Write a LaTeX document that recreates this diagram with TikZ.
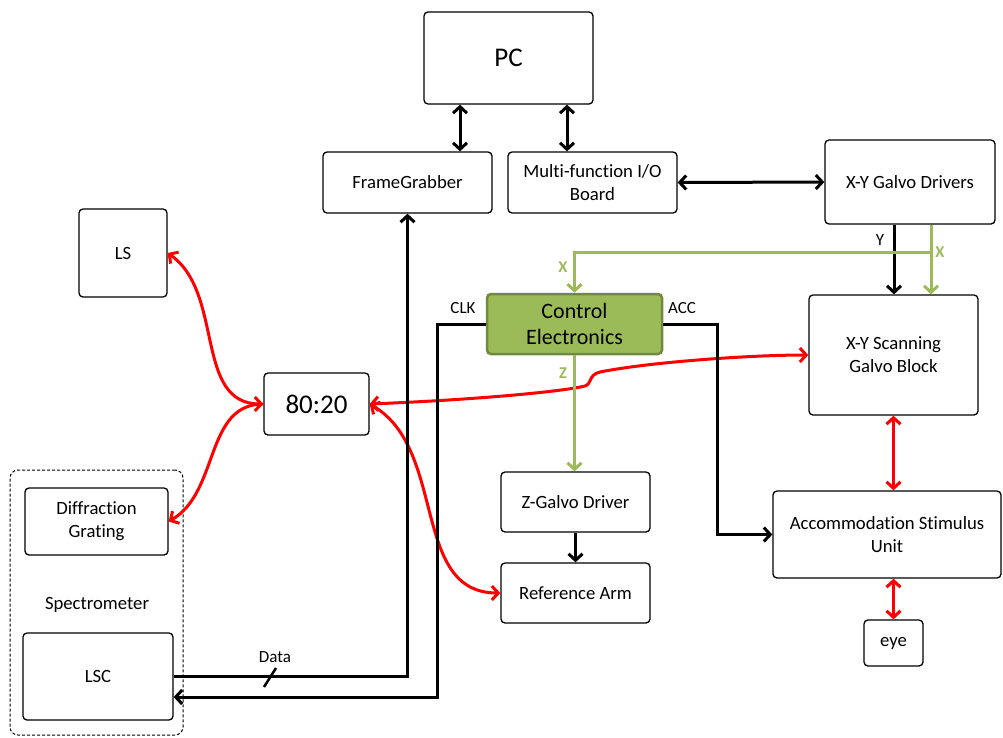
\documentclass[tikz,border=0pt]{standalone}
\usepackage{fontspec}
\setmainfont{Carlito}[Ligatures=CommonOff]
\usetikzlibrary{arrows.meta,calc}
\definecolor{cegreen}{HTML}{9BBB59}
\definecolor{ceborder}{HTML}{71893F}
\definecolor{redline}{HTML}{FF0000}
\begin{document}
\begin{tikzpicture}[x=1pt,y=-1pt,
  bb/.style={draw=black, line width=1.3pt, rounded corners=4pt, fill=white, align=center, inner sep=0pt, font=\fontsize{18.7}{23}\selectfont},
  tip/.tip={Straight Barb[length=6.5pt,width=14pt]},
  blk/.style={line width=3pt, black},
  grn/.style={line width=3pt, cegreen},
  rd/.style={line width=3pt, redline},
  lab/.style={font=\fontsize{17}{19}\selectfont, inner sep=0pt},
  glab/.style={font=\bfseries\fontsize{16.5}{18}\selectfont, text=cegreen, inner sep=0pt}]
\useasboundingbox (0,0) rectangle (1003,737);

% spectrometer container
\node[draw=black, line width=1pt, dash pattern=on 3pt off 2pt, rounded corners=8pt, minimum width=173pt, minimum height=265pt, inner sep=0pt] (Spec) at (96.5,602.5) {};
\node[font=\fontsize{18.7}{23}\selectfont, inner sep=0pt] (SpecL) at (97,605) {Spectrometer};

% boxes
\node[bb, minimum width=169pt, minimum height=92pt, font=\fontsize{27}{30}\selectfont] (PC) at (508.5,58) {PC};
\node[bb, minimum width=169pt, minimum height=61pt] (FG) at (407.5,182.5) {FrameGrabber};
\node[bb, minimum width=169pt, minimum height=61pt] (MIO) at (592.5,182.5) {Multi-function I/O\\Board};
\node[bb, minimum width=170pt, minimum height=84pt] (XYD) at (910,182) {X-Y Galvo Drivers};
\node[bb, minimum width=88pt, minimum height=88pt] (LS) at (123,253) {LS};
\node[bb, minimum width=105pt, minimum height=62pt, font=\fontsize{27}{30}\selectfont] (R) at (316.5,404) {80:20};
\node[bb, draw=ceborder, fill=cegreen, line width=2.5pt, minimum width=175pt, minimum height=60pt, font=\fontsize{22}{26}\selectfont] (CE) at (574.5,324) {Control\\Electronics};
\node[bb, minimum width=169pt, minimum height=120pt] (XYS) at (893.5,355) {X-Y Scanning\\Galvo Block};
\node[bb, minimum width=143pt, minimum height=67pt] (DG) at (96.5,521.5) {Diffraction\\Grating};
\node[bb, minimum width=150pt, minimum height=87pt] (LSC) at (98,676.5) {LSC};
\node[bb, minimum width=149pt, minimum height=60pt] (ZGD) at (575.5,502) {Z-Galvo Driver};
\node[bb, minimum width=149pt, minimum height=60pt] (RA) at (575.5,593) {Reference Arm};
\node[bb, minimum width=228pt, minimum height=87pt] (ASU) at (887,534.5) {Accommodation Stimulus\\Unit};
\node[bb, minimum width=59pt, minimum height=46pt] (eye) at (893.5,643) {eye};

% red optical paths
\draw[rd, {tip}-{tip}] (R.west) to[out=180,in=-35] (LS.east);
\draw[rd, -{tip}] (R.west) to[out=180,in=30] (DG.east);
\draw[rd, {tip}-{tip}] (R.east) to[out=-30,in=180] (RA.west);
\draw[rd, {tip}-{tip}] (R.east) .. controls (470,400) and (560,392) .. (585,386)
   .. controls (592,384) and (588,375) .. (600,372)
   .. controls (650,362) and (750,355) .. (XYS.west);
\draw[rd, {tip}-{tip}] (XYS.south) -- (XYS.south |- ASU.north);
\draw[rd, {tip}-{tip}] (eye.north) -- (eye.north |- ASU.south);

% black connections
\draw[blk, {tip}-{tip}] ([xshift=52.5pt]FG.north) -- ([xshift=52.5pt]FG.north |- PC.south);
\draw[blk, {tip}-{tip}] ([xshift=-25.5pt]MIO.north) -- ([xshift=-25.5pt]MIO.north |- PC.south);
\draw[blk, {tip}-{tip}] (MIO.east) -- (XYD.west);
\draw[blk, -{tip}] ([xshift=-16pt]XYD.south) -- ([xshift=-16pt]XYD.south |- XYS.north);
\draw[blk, -{tip}] (ZGD.south) -- (RA.north);
\coordinate (clk) at (437,324);
\draw[blk, -{tip}] (CE.west) -- (clk) |- ([yshift=-20.5pt]LSC.east);
\draw[blk, -{tip}] (LSC.east) -| (FG.south);
\coordinate (acc) at (717,324);
\draw[blk, -{tip}] (CE.east) -- (acc) |- (ASU.west);
\coordinate (s1) at (264,687);
\coordinate (s2) at (276,668);
\draw[line width=2.5pt] (s1) -- (s2);

% green signals
\coordinate (gx) at (931,252);
\draw[grn, -{tip}] ([xshift=21pt]XYD.south) -- ([xshift=21pt]XYD.south |- XYS.north);
\draw[grn, -{tip}] (gx) -| (CE.north);
\draw[grn, -{tip}] (CE.south) -- (CE.south |- ZGD.north);

% labels
\node[lab] (clkL) at (463,308) {CLK};
\node[lab] (accL) at (682,308) {ACC};
\node[lab] (dataL) at (275,657) {Data};
\node[lab] (yL) at (880,240) {Y};
\node[glab] (xL1) at (940,252) {X};
\node[glab] (xL2) at (563,267) {X};
\node[glab] (zL) at (563,373) {Z};
\end{tikzpicture}
\end{document}
